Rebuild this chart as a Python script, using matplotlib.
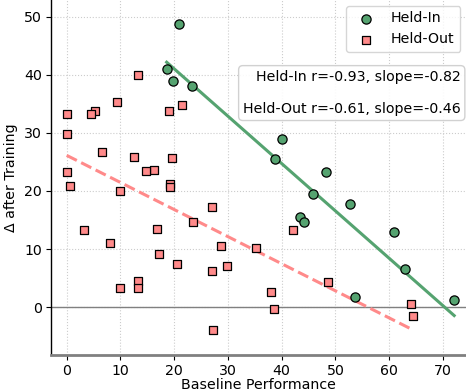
import numpy as np
import matplotlib
matplotlib.use("Agg")
import matplotlib.pyplot as plt

# Held-In tasks: baseline performance vs. delta after training
held_in_x = [20.9, 18.6, 19.7, 23.3, 40.0, 38.7, 48.2, 45.8, 52.7, 43.4,
             44.2, 60.9, 62.9, 53.6, 72.1]
held_in_y = [48.7, 41.0, 38.9, 38.0, 29.0, 25.5, 23.2, 19.4, 17.8, 15.6,
             14.6, 12.9, 6.5, 1.8, 1.3]

# Held-Out tasks
held_out_x = [13.2, 0.0, 5.3, 4.5, 9.3, 19.0, 21.5, 0.0, 6.6, 12.6,
              19.6, 16.3, 14.8, 0.0, 0.7, 9.9, 19.2, 19.2, 27.1, 3.2,
              16.8, 23.5, 8.0, 28.8, 35.3, 17.1, 20.5, 29.8, 27.1, 13.3,
              9.9, 13.2, 27.3, 42.1, 48.7, 38.0, 38.6, 64.0, 64.5]
held_out_y = [39.9, 33.3, 33.8, 33.3, 35.3, 33.7, 34.8, 29.9, 26.7, 25.8,
              25.6, 23.7, 23.4, 23.3, 20.9, 20.0, 21.2, 20.7, 17.3, 13.3,
              13.4, 14.7, 11.0, 10.6, 10.1, 9.1, 7.4, 7.1, 6.3, 4.5,
              3.3, 3.3, -4.0, 13.2, 4.3, 2.6, -0.4, 0.5, -1.6]

stats_text = "Held-In r=-0.93, slope=-0.82\n\nHeld-Out r=-0.61, slope=-0.46"

green = "#55a370"
red = "#ff8a8a"
fs = 10.2

fig = plt.figure(figsize=(4.66, 3.92), dpi=100)
ax = fig.add_axes([0.1105, 0.0952, 0.8895, 0.9048])

ax.axhline(0, color="gray", lw=1, zorder=1)

ax.scatter(held_in_x, held_in_y, marker="o", s=44, color=green,
           edgecolor="black", linewidth=0.9, label="Held-In", zorder=3)
ax.scatter(held_out_x, held_out_y, marker="s", s=40, color=red,
           edgecolor="black", linewidth=0.9, label="Held-Out", zorder=3)

# linear fits over each group's range
for xs, ys, col, ls in [(held_in_x, held_in_y, green, "-"),
                        (held_out_x, held_out_y, red, "--")]:
    xs = np.array(xs)
    k, b = np.polyfit(xs, ys, 1)
    xx = np.array([xs.min(), xs.max()])
    ax.plot(xx, k * xx + b, color=col, lw=2.2, ls=ls, zorder=2)

ax.set_xlim(-2.83, 74.3)
ax.set_ylim(-8.2, 52.9)
ax.set_xticks([0, 10, 20, 30, 40, 50, 60, 70])
ax.set_yticks([0, 10, 20, 30, 40, 50])
ax.grid(True, linestyle=":", color="#cccccc", linewidth=0.8)
ax.set_axisbelow(True)

ax.set_xlabel("Baseline Performance", fontsize=fs, labelpad=0)
ax.set_ylabel("Δ after Training", fontsize=fs)
ax.tick_params(labelsize=fs)

for side in ["top", "right"]:
    ax.spines[side].set_visible(False)
ax.spines["bottom"].set_color("gray")
ax.spines["bottom"].set_linewidth(2)
ax.spines["left"].set_color("black")
ax.spines["left"].set_linewidth(1)

ax.legend(loc="upper right", fontsize=fs, borderaxespad=0.4)

ax.text(0.987, 0.803, stats_text, transform=ax.transAxes, ha="right",
        va="top", fontsize=fs,
        bbox=dict(boxstyle="round,pad=0.3", facecolor="white",
                  edgecolor="#cccccc", alpha=0.9))

fig.savefig("out.png", dpi=100)
